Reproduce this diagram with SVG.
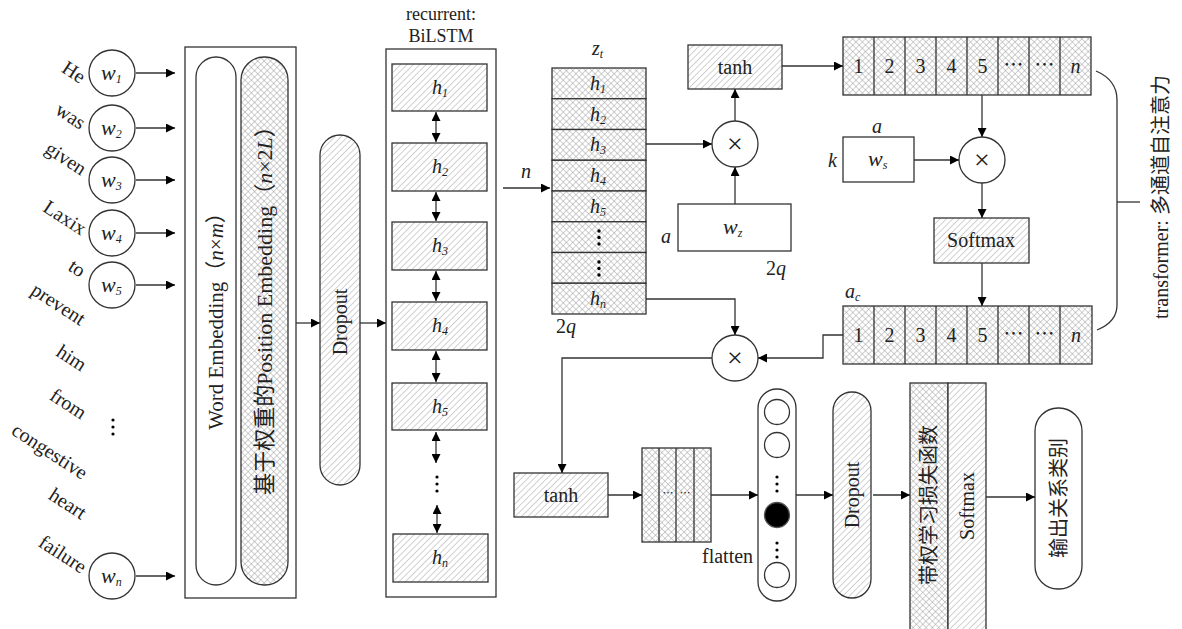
<svg xmlns="http://www.w3.org/2000/svg" width="1182" height="629" viewBox="0 0 1182 629">
<style>
text{font-family:"Liberation Serif","Noto Sans CJK SC",serif;fill:#222}
.t{font-size:20px}
.i{font-style:italic}
.s{font-size:12px;font-style:italic}
.box{stroke:#333;stroke-width:1.3}
.ln{fill:none;stroke:#333;stroke-width:1.3}
.arr{fill:none;stroke:#333;stroke-width:1.3;marker-end:url(#ah)}
.darr{fill:none;stroke:#333;stroke-width:1.3;marker-end:url(#ah);marker-start:url(#ahs)}
.w{font-size:20px}
.x{font-size:28px}
</style>
<defs>
<marker id="ah" viewBox="0 0 10 10" refX="10" refY="5" markerWidth="10" markerHeight="9" markerUnits="userSpaceOnUse" orient="auto"><path d="M0,0 L10,5 L0,10 z" fill="#000"/></marker>
<marker id="ahs" viewBox="0 0 10 10" refX="0" refY="5" markerWidth="10" markerHeight="9" markerUnits="userSpaceOnUse" orient="auto"><path d="M10,0 L0,5 L10,10 z" fill="#000"/></marker>
<pattern id="hatch" width="4.5" height="4.5" patternUnits="userSpaceOnUse" patternTransform="rotate(45)"><rect width="4.5" height="4.5" fill="#fff"/><line x1="0" y1="0" x2="0" y2="4.5" stroke="#999" stroke-width="0.9"/></pattern>
<pattern id="cross" width="4.5" height="4.5" patternUnits="userSpaceOnUse" patternTransform="rotate(45)"><rect width="4.5" height="4.5" fill="#fff"/><line x1="0" y1="0" x2="0" y2="4.5" stroke="#999" stroke-width="0.9"/><line x1="0" y1="0" x2="4.5" y2="0" stroke="#999" stroke-width="0.9"/></pattern>
</defs>

<g id="words">
<text class="w" text-anchor="end" transform="rotate(33 80 84)" x="80" y="84">He</text>
<text class="w" text-anchor="end" transform="rotate(33 80 130)" x="80" y="130">was</text>
<text class="w" text-anchor="end" transform="rotate(33 81 176)" x="81" y="176">given</text>
<text class="w" text-anchor="end" transform="rotate(33 81 236)" x="81" y="236">Laxix</text>
<text class="w" text-anchor="end" transform="rotate(33 80 278)" x="80" y="278">to</text>
<text class="w" text-anchor="end" transform="rotate(33 80 326)" x="80" y="326">prevent</text>
<text class="w" text-anchor="end" transform="rotate(33 81 372)" x="81" y="372">him</text>
<text class="w" text-anchor="end" transform="rotate(33 81 420)" x="81" y="420">from</text>
<text class="w" text-anchor="end" transform="rotate(33 82 480)" x="82" y="480">congestive</text>
<text class="w" text-anchor="end" transform="rotate(33 81 520)" x="81" y="520">heart</text>
<text class="w" text-anchor="end" transform="rotate(33 81 574)" x="81" y="574">failure</text>
<g fill="#000"><circle cx="113" cy="420" r="1.6"/><circle cx="113" cy="427" r="1.6"/><circle cx="113" cy="434" r="1.6"/></g>
</g>

<g id="word-nodes">
<g id="w1"><circle cx="112" cy="73" r="23" fill="#fff" class="box"/><text class="t i" x="101" y="80" style="font-size:22px">w<tspan class="s" dy="3">1</tspan></text></g>
<g id="w2"><circle cx="112" cy="128" r="23" fill="#fff" class="box"/><text class="t i" x="101" y="135" style="font-size:22px">w<tspan class="s" dy="3">2</tspan></text></g>
<g id="w3"><circle cx="112" cy="180" r="23" fill="#fff" class="box"/><text class="t i" x="101" y="187" style="font-size:22px">w<tspan class="s" dy="3">3</tspan></text></g>
<g id="w4"><circle cx="112" cy="233" r="23" fill="#fff" class="box"/><text class="t i" x="101" y="240" style="font-size:22px">w<tspan class="s" dy="3">4</tspan></text></g>
<g id="w5"><circle cx="112" cy="285" r="23" fill="#fff" class="box"/><text class="t i" x="101" y="292" style="font-size:22px">w<tspan class="s" dy="3">5</tspan></text></g>
<g id="wn"><circle cx="112" cy="576" r="23" fill="#fff" class="box"/><text class="t i" x="101" y="583" style="font-size:22px">w<tspan class="s" dy="3">n</tspan></text></g>
</g>

<g id="embedding">
<rect x="185" y="47" width="111" height="551" fill="#fff" class="box"/>
<rect x="196" y="57" width="40" height="528" rx="20" fill="#fff" class="box"/>
<rect x="241" y="57" width="47" height="528" rx="23" fill="url(#cross)" class="box"/>
<text class="t" text-anchor="middle" transform="rotate(-90 223 316)" x="223" y="316" style="font-size:21px">Word Embedding（<tspan class="i">n</tspan>×<tspan class="i">m</tspan>）</text>
<text class="t" text-anchor="middle" transform="rotate(-90 272 305)" x="272" y="305" style="font-size:22px">基于权重的Position Embedding（<tspan class="i">n</tspan>×2<tspan class="i">L</tspan>）</text>
</g>

<g id="dropout1">
<rect x="320" y="135" width="40" height="350" rx="20" fill="url(#hatch)" class="box"/>
<text class="t" text-anchor="middle" transform="rotate(-90 347 322)" x="347" y="322">Dropout</text>
</g>

<g id="bilstm">
<text class="t" text-anchor="middle" x="441" y="20" style="font-size:18px">recurrent:</text>
<text class="t" text-anchor="middle" x="441" y="42" style="font-size:18px">BiLSTM</text>
<rect x="386" y="49" width="110" height="548" fill="#fff" class="box"/>
<rect x="392" y="64" width="95" height="47" fill="url(#hatch)" class="box"/>
<rect x="392" y="143" width="95" height="48" fill="url(#hatch)" class="box"/>
<rect x="392" y="222" width="95" height="48" fill="url(#hatch)" class="box"/>
<rect x="392" y="302" width="95" height="48" fill="url(#hatch)" class="box"/>
<rect x="392" y="383" width="95" height="47" fill="url(#hatch)" class="box"/>
<rect x="393" y="534" width="95" height="48" fill="url(#hatch)" class="box"/>
<text class="t i" x="432" y="94">h<tspan class="s" dy="3">1</tspan></text>
<text class="t i" x="432" y="173">h<tspan class="s" dy="3">2</tspan></text>
<text class="t i" x="432" y="252">h<tspan class="s" dy="3">3</tspan></text>
<text class="t i" x="432" y="332">h<tspan class="s" dy="3">4</tspan></text>
<text class="t i" x="432" y="413">h<tspan class="s" dy="3">5</tspan></text>
<text class="t i" x="432" y="564">h<tspan class="s" dy="3">n</tspan></text>
<g fill="#000"><circle cx="437" cy="477" r="1.6"/><circle cx="437" cy="484" r="1.6"/><circle cx="437" cy="491" r="1.6"/></g>
</g>

<g id="zt">
<text class="t i" x="592" y="55">z<tspan class="s" dy="3">t</tspan></text>
<rect x="552" y="68" width="94" height="30.75" fill="url(#cross)" class="box"/>
<rect x="552" y="98.75" width="94" height="30.75" fill="url(#cross)" class="box"/>
<rect x="552" y="129.5" width="94" height="30.75" fill="url(#cross)" class="box"/>
<rect x="552" y="160.25" width="94" height="30.75" fill="url(#cross)" class="box"/>
<rect x="552" y="191" width="94" height="30.75" fill="url(#cross)" class="box"/>
<rect x="552" y="221.75" width="94" height="30.75" fill="url(#cross)" class="box"/>
<rect x="552" y="252.5" width="94" height="30.75" fill="url(#cross)" class="box"/>
<rect x="552" y="283.25" width="94" height="30.75" fill="url(#cross)" class="box"/>
<text class="t i" x="590" y="90">h<tspan class="s" dy="3">1</tspan></text>
<text class="t i" x="590" y="121">h<tspan class="s" dy="3">2</tspan></text>
<text class="t i" x="590" y="151">h<tspan class="s" dy="3">3</tspan></text>
<text class="t i" x="590" y="182">h<tspan class="s" dy="3">4</tspan></text>
<text class="t i" x="590" y="213">h<tspan class="s" dy="3">5</tspan></text>
<g fill="#000"><circle cx="599" cy="231" r="1.7"/><circle cx="599" cy="237.5" r="1.7"/><circle cx="599" cy="244" r="1.7"/><circle cx="599" cy="262" r="1.7"/><circle cx="599" cy="268.5" r="1.7"/><circle cx="599" cy="275" r="1.7"/></g>
<text class="t i" x="590" y="305">h<tspan class="s" dy="3">n</tspan></text>
<text class="t" x="556" y="333">2<tspan class="i">q</tspan></text>
</g>

<g id="tanh1"><rect x="688" y="45" width="94" height="44" fill="url(#hatch)" class="box"/><text class="t" text-anchor="middle" x="735" y="74">tanh</text></g>
<g id="mul1"><circle cx="735" cy="144" r="23" fill="#fff" class="box"/><text class="x" text-anchor="middle" x="735" y="153">×</text></g>
<g id="wz"><rect x="678" y="204" width="113" height="47" fill="#fff" class="box"/><text class="t i" x="723" y="234" style="font-size:22px">w<tspan class="s" dy="3">z</tspan></text>
<text class="t i" x="661" y="243">a</text><text class="t" x="766" y="275">2<tspan class="i">q</tspan></text></g>

<g id="toprow">
<rect x="843" y="37" width="248" height="58" fill="url(#cross)" class="box"/>
<g class="ln"><line x1="874" y1="37" x2="874" y2="95"/><line x1="905" y1="37" x2="905" y2="95"/><line x1="936" y1="37" x2="936" y2="95"/><line x1="967" y1="37" x2="967" y2="95"/><line x1="998" y1="37" x2="998" y2="95"/><line x1="1029" y1="37" x2="1029" y2="95"/><line x1="1060" y1="37" x2="1060" y2="95"/></g>
<g text-anchor="middle"><text class="t" x="858.5" y="73">1</text><text class="t" x="889.5" y="73">2</text><text class="t" x="920.5" y="73">3</text><text class="t" x="951.5" y="73">4</text><text class="t" x="982.5" y="73">5</text><text class="t" x="1013.5" y="72">⋯</text><text class="t" x="1044.5" y="72">⋯</text><text class="t i" x="1075.5" y="73">n</text></g>
</g>

<g id="ws"><rect x="843" y="137" width="71" height="45" fill="#fff" class="box"/><text class="t i" x="868" y="166" style="font-size:22px">w<tspan class="s" dy="3">s</tspan></text>
<text class="t i" x="872" y="133">a</text><text class="t i" x="828" y="167">k</text></g>
<g id="mul2"><circle cx="982" cy="160" r="23" fill="#fff" class="box"/><text class="x" text-anchor="middle" x="982" y="169">×</text></g>
<g id="softmax1"><rect x="934" y="218" width="95" height="45" fill="url(#hatch)" class="box"/><text class="t" text-anchor="middle" x="981" y="247">Softmax</text></g>

<g id="botrow">
<text class="t i" x="845" y="298">a<tspan class="s" dy="3">c</tspan></text>
<rect x="843" y="306" width="249" height="58" fill="url(#cross)" class="box"/>
<g class="ln"><line x1="874" y1="306" x2="874" y2="364"/><line x1="905" y1="306" x2="905" y2="364"/><line x1="936" y1="306" x2="936" y2="364"/><line x1="967" y1="306" x2="967" y2="364"/><line x1="998" y1="306" x2="998" y2="364"/><line x1="1029" y1="306" x2="1029" y2="364"/><line x1="1060" y1="306" x2="1060" y2="364"/></g>
<g text-anchor="middle"><text class="t" x="858.5" y="342">1</text><text class="t" x="889.5" y="342">2</text><text class="t" x="920.5" y="342">3</text><text class="t" x="951.5" y="342">4</text><text class="t" x="982.5" y="342">5</text><text class="t" x="1013.5" y="341">⋯</text><text class="t" x="1044.5" y="341">⋯</text><text class="t i" x="1076" y="342">n</text></g>
</g>

<g id="transformer">
<path class="ln" d="M1096,71 Q1117,80 1117,100 L1117,305 Q1117,322 1097,330"/>
<line class="ln" x1="1117" y1="202" x2="1140" y2="202"/>
<text class="t" text-anchor="middle" transform="rotate(-90 1168 197)" x="1168" y="197">transformer: 多通道自注意力</text>
</g>

<g id="mul3"><circle cx="735" cy="358" r="23" fill="#fff" class="box"/><text class="x" text-anchor="middle" x="735" y="367">×</text></g>
<g id="tanh2"><rect x="514" y="473" width="94" height="44" fill="url(#hatch)" class="box"/><text class="t" text-anchor="middle" x="561" y="502">tanh</text></g>
<g id="flatten">
<rect x="642" y="448" width="69" height="94" fill="url(#cross)" class="box"/>
<g class="ln"><line x1="659" y1="448" x2="659" y2="542"/><line x1="676" y1="448" x2="676" y2="542"/><line x1="694" y1="448" x2="694" y2="542"/></g>
<text x="668" y="497" text-anchor="middle" style="font-size:11px">⋯</text><text x="685" y="497" text-anchor="middle" style="font-size:11px">⋯</text>
<text class="t" x="702" y="563">flatten</text>
</g>
<g id="neurons">
<rect x="758" y="389" width="38" height="212" rx="19" fill="#fff" class="box"/>
<circle cx="777" cy="412" r="12.5" fill="#fff" class="box"/>
<circle cx="777" cy="445" r="12.5" fill="#fff" class="box"/>
<g fill="#000"><circle cx="777" cy="477" r="1.6"/><circle cx="777" cy="484" r="1.6"/><circle cx="777" cy="491" r="1.6"/><circle cx="777" cy="543" r="1.6"/><circle cx="777" cy="550" r="1.6"/><circle cx="777" cy="557" r="1.6"/></g>
<circle cx="777" cy="515" r="12.5" fill="#000" stroke="#555" stroke-width="1.3"/>
<circle cx="777" cy="575" r="12.5" fill="#fff" class="box"/>
</g>
<g id="dropout2">
<rect x="833" y="392" width="38" height="206" rx="19" fill="url(#hatch)" class="box"/>
<text class="t" text-anchor="middle" transform="rotate(-90 859 495)" x="859" y="495">Dropout</text>
</g>
<g id="loss">
<rect x="910" y="383" width="38" height="250" fill="url(#cross)" class="box"/>
<rect x="948" y="383" width="38" height="250" fill="url(#hatch)" class="box"/>
<text class="t" text-anchor="middle" transform="rotate(-90 936 505)" x="936" y="505">带权学习损失函数</text>
<text class="t" text-anchor="middle" transform="rotate(-90 974 506)" x="974" y="506">Softmax</text>
</g>
<g id="output">
<rect x="1035" y="408" width="47" height="181" rx="23" fill="#fff" class="box"/>
<text class="t" text-anchor="middle" transform="rotate(-90 1066 498)" x="1066" y="498">输出关系类别</text>
</g>

<g id="connectors">
<line class="arr" x1="136" y1="73" x2="175" y2="73"/>
<line class="arr" x1="136" y1="128" x2="175" y2="128"/>
<line class="arr" x1="136" y1="180" x2="175" y2="180"/>
<line class="arr" x1="136" y1="233" x2="175" y2="233"/>
<line class="arr" x1="136" y1="285" x2="175" y2="285"/>
<line class="arr" x1="136" y1="576" x2="175" y2="576"/>
<line class="arr" x1="296" y1="323" x2="320" y2="323"/>
<line class="arr" x1="360" y1="323" x2="386" y2="323"/>
<line class="darr" x1="436" y1="112" x2="436" y2="142"/>
<line class="darr" x1="436" y1="192" x2="436" y2="221"/>
<line class="darr" x1="436" y1="271" x2="436" y2="301"/>
<line class="darr" x1="436" y1="351" x2="436" y2="382"/>
<line class="darr" x1="436" y1="432" x2="436" y2="463"/>
<line class="darr" x1="437" y1="505" x2="437" y2="533"/>
<line class="arr" x1="503" y1="188" x2="550" y2="188"/>
<text class="t i" x="521" y="178">n</text>
<line class="arr" x1="646" y1="144" x2="712" y2="144"/>
<line class="arr" x1="735" y1="204" x2="735" y2="167"/>
<line class="arr" x1="735" y1="121" x2="735" y2="89"/>
<line class="arr" x1="782" y1="66" x2="843" y2="66"/>
<line class="arr" x1="982" y1="95" x2="982" y2="137"/>
<line class="arr" x1="914" y1="160" x2="959" y2="160"/>
<line class="arr" x1="982" y1="183" x2="982" y2="218"/>
<line class="arr" x1="982" y1="263" x2="982" y2="306"/>
<polyline class="arr" points="646,299 735,299 735,335"/>
<polyline class="arr" points="843,335 823,335 823,358 758,358"/>
<polyline class="arr" points="712,358 562,358 562,473"/>
<line class="arr" x1="608" y1="495" x2="642" y2="495"/>
<line class="arr" x1="711" y1="495" x2="758" y2="495"/>
<line class="arr" x1="796" y1="495" x2="833" y2="495"/>
<line class="arr" x1="873" y1="495" x2="910" y2="495"/>
<line class="arr" x1="986" y1="497" x2="1035" y2="497"/>
</g>
</svg>
